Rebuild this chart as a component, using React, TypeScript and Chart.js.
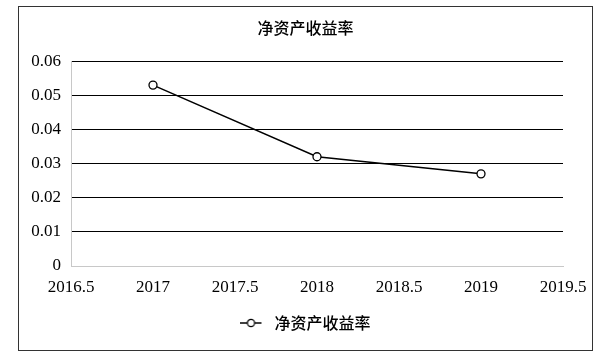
import React, { useEffect, useRef } from "react";
import { Chart, registerables } from "chart.js";

Chart.register(...registerables);

const title = "净资产收益率";
const seriesName = "净资产收益率";
const years = [2017, 2018, 2019];
const roe = [0.053, 0.032, 0.027];
const xMin = 2016.5;
const xMax = 2019.5;
const yMin = 0;
const yMax = 0.06;

const frame = {
  id: "frame",
  beforeDraw(chart: any) {
    const ctx = chart.ctx;
    ctx.save();
    ctx.fillStyle = "#fff";
    ctx.fillRect(0, 0, chart.width, chart.height);
    ctx.strokeStyle = "#333";
    ctx.lineWidth = 1;
    ctx.strokeRect(18.5, 6.5, 574, 344);
    ctx.restore();
  },
};

function legendIcon() {
  const c = document.createElement("canvas");
  c.width = 26;
  c.height = 10;
  const g = c.getContext("2d")!;
  g.strokeStyle = "#000";
  g.lineWidth = 1.5;
  g.beginPath();
  g.moveTo(0, 5);
  g.lineTo(21, 5);
  g.stroke();
  g.beginPath();
  g.arc(10.5, 5, 3.6, 0, Math.PI * 2);
  g.fillStyle = "#fff";
  g.fill();
  g.lineWidth = 1.2;
  g.stroke();
  return c;
}

export default function App() {
  const ref = useRef<HTMLCanvasElement>(null);
  useEffect(() => {
    const icon = legendIcon();
    const chart = new Chart(ref.current!, {
      type: "line",
      data: {
        datasets: [
          {
            label: seriesName,
            data: years.map((y, i) => ({ x: y, y: roe[i] })),
            borderColor: "#000",
            borderWidth: 1.5,
            pointRadius: 4,
            pointBorderWidth: 1.3,
            pointBackgroundColor: "#fff",
            pointBorderColor: "#000",
            pointStyle: "circle",
            tension: 0,
          } as any,
        ],
      },
      plugins: [frame],
      options: {
        animation: false,
        responsive: false,
        layout: { padding: { left: 18, right: 16, top: 7, bottom: 19 } },
        plugins: {
          title: {
            display: true,
            text: title,
            color: "#000",
            font: { family: "'Noto Sans CJK SC'", size: 16, weight: "500" },
            padding: { top: 11, bottom: 24 },
          },
          legend: {
            position: "bottom",
            labels: {
              usePointStyle: true,
              pointStyleWidth: 26,
              color: "#000",
              font: { family: "'Noto Sans CJK SC'", size: 16, weight: "500" },
              generateLabels: () => [
                {
                  text: seriesName,
                  pointStyle: icon,
                  fillStyle: "#fff",
                  strokeStyle: "#000",
                  lineWidth: 0,
                  datasetIndex: 0,
                  hidden: false,
                },
              ],
            } as any,
          },
          tooltip: { enabled: false },
        },
        scales: {
          x: {
            type: "linear",
            min: xMin,
            max: xMax,
            ticks: {
              stepSize: 0.5,
              color: "#000",
              padding: 11,
              font: { family: "'Liberation Serif'", size: 17 },
              maxRotation: 0,
              callback: (v: any) => String(Number(Number(v).toFixed(1))),
            },
            grid: { display: false, drawTicks: false },
            border: { display: true, color: "#c8c8c8", width: 1 },
            afterFit: (s: any) => {
              s.height = 39;
            },
          },
          y: {
            min: yMin,
            max: yMax,
            ticks: {
              stepSize: 0.01,
              color: "#000",
              padding: 10,
              font: { family: "'Liberation Serif'", size: 17 },
              callback: (v: any) => (Number(v) === 0 ? "0" : Number(v).toFixed(2)),
            },
            grid: {
              drawTicks: false,
              color: (c: any) => (c.tick && c.tick.value === 0 ? "#c8c8c8" : "#000"),
              lineWidth: 1,
            },
            border: { display: true, color: "#c8c8c8", width: 1 },
            afterFit: (s: any) => {
              s.width = 53;
            },
          },
          y2: {
            position: "right",
            display: true,
            ticks: { display: false },
            grid: { display: false, drawTicks: false },
            border: { display: false },
            afterFit: (s: any) => {
              s.width = 30;
            },
          },
        },
      } as any,
    });
    return () => chart.destroy();
  }, []);
  return (
    <div style={{ position: "fixed", left: 0, top: 0, width: 609, height: 360, background: "#fff" }}>
      <canvas ref={ref} width={609} height={360} style={{ width: 609, height: 360 }} />
    </div>
  );
}
